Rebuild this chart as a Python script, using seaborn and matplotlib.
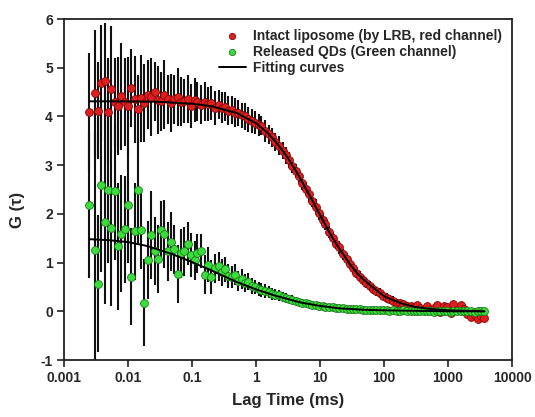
import pandas as pd
import seaborn as sns
import matplotlib.pyplot as plt
from matplotlib.ticker import FixedLocator, FixedFormatter, NullLocator

# lag times (ms), shared by both channels
lag_ms = [0.0025, 0.0030, 0.0034, 0.0038, 0.0043, 0.0049, 0.0055, 0.0062, 0.0070, 0.0079,
          0.0089, 0.010, 0.0113, 0.0127, 0.0143, 0.016, 0.018, 0.0204, 0.023, 0.026,
          0.029, 0.033, 0.037, 0.042, 0.047, 0.053, 0.060, 0.068, 0.076, 0.086,
          0.097, 0.11, 0.12, 0.14, 0.16, 0.18, 0.20, 0.23, 0.26, 0.29,
          0.33, 0.37, 0.42, 0.47, 0.53, 0.60, 0.68, 0.76, 0.86, 0.97,
          1.1, 1.2, 1.4, 1.6, 1.8, 2.0, 2.3, 2.6, 2.9, 3.3,
          3.7, 4.2, 4.7, 5.3, 6.0, 6.8, 7.6, 8.6, 9.7, 11,
          12, 14, 16, 18, 20, 23, 26, 29, 33, 37,
          42, 47, 53, 60, 68, 76, 86, 97, 110, 120,
          140, 160, 180, 200, 230, 260, 290, 330, 370, 420,
          470, 530, 600, 680, 760, 860, 970, 1100, 1200, 1400,
          1600, 1800, 2000, 2300, 2600, 2900, 3300, 3700]

# intact liposome (red channel)
red_g = [4.10, 4.48, 4.12, 4.68, 4.72, 4.10, 4.56, 4.30, 4.21, 4.41,
         4.30, 4.21, 4.58, 4.35, 4.15, 4.37, 4.28, 4.45, 4.40, 4.51,
         4.33, 4.31, 4.45, 4.35, 4.28, 4.35, 4.40, 4.30, 4.31, 4.36,
         4.21, 4.33, 4.30, 4.24, 4.30, 4.26, 4.28, 4.17, 4.24, 4.18,
         4.20, 4.12, 4.13, 4.08, 4.07, 4.02, 4.00, 3.94, 3.91, 3.87,
         3.82, 3.81, 3.70, 3.63, 3.57, 3.48, 3.40, 3.30, 3.20, 3.10,
         2.99, 2.88, 2.77, 2.64, 2.52, 2.40, 2.27, 2.15, 2.02, 1.87,
         1.80, 1.63, 1.50, 1.39, 1.31, 1.17, 1.07, 0.97, 0.88, 0.79,
         0.71, 0.64, 0.58, 0.52, 0.46, 0.41, 0.37, 0.32, 0.28, 0.25,
         0.22, 0.18, 0.16, 0.14, 0.11, 0.10, 0.08, 0.12, 0.06, 0.05,
         0.10, 0.02, 0.06, 0.13, -0.02, 0.10, 0.08, -0.04, 0.14, 0.02,
         0.12, 0.05, -0.06, -0.12, -0.08, -0.15, -0.10, -0.13]
red_err = [1.2, 1.3, 1.0, 1.2, 1.2, 1.1, 1.3, 0.9, 1.0, 1.1,
           0.9, 1.0, 0.8, 0.9, 0.7, 0.9, 0.8, 0.7, 0.8, 0.6,
           0.7, 0.6, 0.7, 0.5, 0.6, 0.5, 0.6, 0.5, 0.45, 0.5,
           0.45, 0.45, 0.4, 0.4, 0.4, 0.35, 0.35, 0.35, 0.3, 0.32,
           0.3, 0.3, 0.28, 0.3, 0.27, 0.26, 0.28, 0.25, 0.25, 0.24,
           0.22, 0.2, 0.22, 0.19, 0.2, 0.18, 0.19, 0.17, 0.18, 0.16,
           0.16, 0.15, 0.14, 0.16, 0.14, 0.15, 0.13, 0.15, 0.14, 0.13,
           0.14, 0.12, 0.13, 0.12, 0.13, 0.11, 0.12, 0.11, 0.12, 0.10,
           0.11, 0.10, 0.11, 0.10, 0.10, 0.09, 0.10, 0.09, 0.10, 0.08,
           0.09, 0.08, 0.08, 0.07, 0.08, 0.07, 0.08, 0.07, 0.07, 0.06,
           0.07, 0.06, 0.07, 0.06, 0.06, 0.07, 0.06, 0.07, 0.06, 0.06,
           0.07, 0.06, 0.06, 0.07, 0.06, 0.07, 0.06, 0.06]

# released QDs (green channel)
green_g = [2.19, 1.26, 0.57, 2.60, 1.84, 2.50, 1.70, 2.46, 1.33, 1.59,
           1.68, 2.19, 0.71, 1.64, 2.48, 1.66, 0.18, 1.06, 1.56, 1.23,
           1.08, 1.66, 1.58, 1.23, 1.43, 1.27, 0.77, 1.19, 1.23, 1.39,
           1.16, 1.05, 1.19, 1.23, 0.75, 0.96, 0.71, 0.88, 0.92, 0.80,
           0.86, 0.72, 0.70, 0.75, 0.62, 0.66, 0.58, 0.61, 0.52, 0.50,
           0.46, 0.44, 0.41, 0.40, 0.36, 0.34, 0.33, 0.29, 0.27, 0.25,
           0.24, 0.21, 0.19, 0.18, 0.16, 0.15, 0.13, 0.13, 0.11, 0.10,
           0.09, 0.08, 0.08, 0.07, 0.06, 0.06, 0.05, 0.05, 0.04, 0.04,
           0.04, 0.03, 0.03, 0.03, 0.02, 0.03, 0.02, 0.02, 0.02, 0.01,
           0.02, 0.01, 0.01, 0.02, 0.00, 0.01, 0.01, 0.00, 0.01, 0.00,
           0.01, 0.00, -0.01, 0.01, 0.00, 0.01, 0.00, -0.01, 0.00, 0.01,
           0.00, 0.01, 0.00, 0.00, -0.01, 0.00, 0.01, 0.00]
green_err = [1.5, 2.4, 1.4, 1.8, 1.7, 1.5, 1.6, 1.4, 1.3, 1.2,
             1.1, 1.2, 1.0, 1.0, 1.1, 0.8, 0.9, 0.8, 0.9, 0.7,
             0.7, 0.6, 0.7, 0.6, 0.6, 0.5, 0.6, 0.5, 0.5, 0.45,
             0.45, 0.4, 0.4, 0.35, 0.4, 0.35, 0.35, 0.3, 0.3, 0.28,
             0.25, 0.25, 0.22, 0.22, 0.2, 0.2, 0.18, 0.18, 0.16, 0.15,
             0.15, 0.14, 0.14, 0.12, 0.12, 0.11, 0.11, 0.10, 0.10, 0.09,
             0.09, 0.08, 0.08, 0.07, 0.07, 0.07, 0.06, 0.06, 0.06, 0.05,
             0.05, 0.05, 0.05, 0.05, 0.04, 0.05, 0.04, 0.04, 0.04, 0.04,
             0.04, 0.04, 0.04, 0.04, 0.04, 0.04, 0.04, 0.04, 0.04, 0.04,
             0.04, 0.04, 0.04, 0.04, 0.04, 0.04, 0.04, 0.04, 0.04, 0.04,
             0.04, 0.04, 0.04, 0.04, 0.04, 0.04, 0.04, 0.04, 0.04, 0.04,
             0.04, 0.04, 0.04, 0.04, 0.04, 0.04, 0.04, 0.04]

# fitting curves
red_fit_t = [0.0025, 0.01, 0.03, 0.1, 0.2, 0.5, 1, 1.5, 2, 3, 4, 5, 7, 10, 13, 15, 20, 30, 40,
             50, 70, 100, 150, 200, 300, 500, 1000, 3700]
red_fit_g = [4.31, 4.31, 4.30, 4.26, 4.21, 4.07, 3.86, 3.67, 3.49, 3.19, 2.93, 2.71, 2.36, 1.98, 1.70,
             1.55, 1.29, 0.95, 0.75, 0.63, 0.47, 0.31, 0.21, 0.15, 0.09, 0.05, 0.02, 0.00]
green_fit_t = [0.0025, 0.005, 0.01, 0.02, 0.05, 0.1, 0.2, 0.5, 1, 2, 5, 10, 20, 50, 100, 300, 1000, 3700]
green_fit_g = [1.48, 1.46, 1.42, 1.34, 1.17, 1.01, 0.84, 0.60, 0.45, 0.32, 0.18, 0.11, 0.06, 0.03,
               0.02, 0.01, 0.00, 0.00]

x_ticks = [0.001, 0.01, 0.1, 1, 10, 100, 1000, 10000]
x_tick_labels = ["0.001", "0.01", "0.1", "1", "10", "100", "1000", "10000"]

red_df = pd.DataFrame({"lag": lag_ms, "G": red_g, "err": red_err})
green_df = pd.DataFrame({"lag": lag_ms, "G": green_g, "err": green_err})

sns.set_theme(style="ticks")
plt.rcParams['font.family'] = ['Liberation Sans', 'DejaVu Sans']
plt.rcParams['axes.unicode_minus'] = False

fig, ax = plt.subplots(figsize=(5.35, 4.17), dpi=100)
fig.subplots_adjust(left=64 / 535, right=512 / 535, top=1 - 19 / 417, bottom=1 - 360 / 417)

# error bars first, underneath the points
for df in (red_df, green_df):
    ax.errorbar(df["lag"], df["G"], yerr=df["err"], fmt="none", ecolor="#111111",
                elinewidth=1.5, capsize=0, zorder=1)

sns.scatterplot(data=red_df, x="lag", y="G", color="#e01e1e", edgecolor="#7a0a0a",
                linewidth=0.6, s=32, zorder=2, ax=ax, label="Intact liposome (by LRB, red channel)")
sns.scatterplot(data=green_df, x="lag", y="G", color="#3ddc3d", edgecolor="#1c7a1c",
                linewidth=0.6, s=32, zorder=2, ax=ax, label="Released QDs (Green channel)")
sns.lineplot(x=red_fit_t, y=red_fit_g, color="black", linewidth=1.4, zorder=3, ax=ax,
             label="Fitting curves")
sns.lineplot(x=green_fit_t, y=green_fit_g, color="black", linewidth=1.4, zorder=3, ax=ax)

ax.set_xscale("log")
ax.set_xlim(0.001, 10000)
ax.set_ylim(-1, 6)
ax.xaxis.set_major_locator(FixedLocator(x_ticks))
ax.xaxis.set_major_formatter(FixedFormatter(x_tick_labels))
ax.xaxis.set_minor_locator(NullLocator())
ax.set_yticks(range(-1, 7))

for sp in ax.spines.values():
    sp.set_linewidth(1.3)
    sp.set_color("#222222")
ax.tick_params(axis="both", direction="out", length=5, width=1.2, color="#222222",
               labelsize=10, pad=3)
for lab in ax.get_xticklabels() + ax.get_yticklabels():
    lab.set_fontweight("bold")

ax.set_xlabel("Lag Time (ms)", fontsize=12, fontweight="bold", labelpad=6)
ax.set_ylabel("G (τ)", fontsize=12, fontweight="bold")
ax.yaxis.set_label_coords(-0.088, 0.44)

ax.legend(loc="upper right", frameon=False, prop={"weight": "bold", "size": 10},
          handlelength=2.0, handletextpad=0.5, labelspacing=0.15, borderaxespad=0.3,
          markerscale=0.8)

plt.savefig("out.png", dpi=100)
